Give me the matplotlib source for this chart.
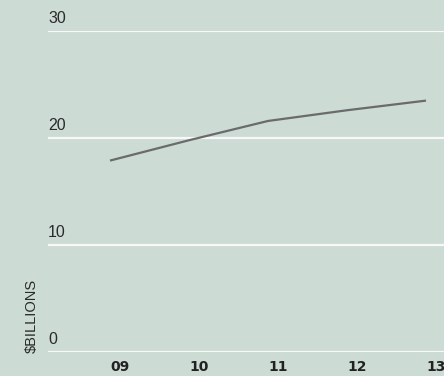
import matplotlib
matplotlib.use('Agg')
import matplotlib.pyplot as plt

# data
years = [9, 10, 11, 12, 13]
year_labels = ['09', '10', '11', '12', '13']
billions = [17.9, 19.8, 21.6, 22.6, 23.5]
y_ticks = [0, 10, 20, 30]

bg = '#cddbd5'
txt = '#222222'

plt.rcParams['font.family'] = ['Liberation Sans', 'DejaVu Sans']

fig = plt.figure(figsize=(4.44, 3.76), dpi=100, facecolor=bg)
ax = fig.add_axes([48 / 444, 1 - 352.3 / 376, 1 - 48 / 444, (352.3 - 31) / 376])
ax.set_facecolor(bg)

ax.plot(years, billions, color='#6b6b6b', lw=1.6, solid_capstyle='butt', zorder=3)

ax.set_xlim(8.215, 13.228)
ax.set_ylim(0, 30)

for y in y_ticks:
    ax.axhline(y, color='#f7f9f8', lw=1.6, zorder=1)
    ax.text(0, y + 0.75, str(y), transform=ax.get_yaxis_transform(),
            ha='left', va='baseline', fontsize=11.5, color='#2a2a2a')

for x, lab in zip(years, year_labels):
    ax.text(x, -0.058, lab, transform=ax.get_xaxis_transform(),
            ha='left', va='baseline', fontsize=10, color=txt, fontweight='bold',
            family='DejaVu Sans')

fig.text(32 / 444, 1 - 353 / 376, '$BILLIONS', rotation=90, ha='center', va='bottom',
         fontsize=10.5, color='#2a2a2a')

for s in ax.spines.values():
    s.set_visible(False)
ax.set_xticks([])
ax.set_yticks([])

fig.savefig('out.png', dpi=100, facecolor=bg)
plt.close()
